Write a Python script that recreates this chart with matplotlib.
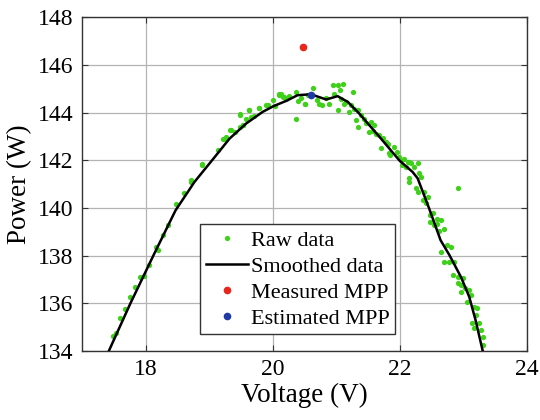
import matplotlib.pyplot as plt
import numpy as np

# Datos
raw_v = [17.49, 17.54, 17.67, 17.75, 17.83, 17.91, 17.97, 18.17, 18.19, 18.27,
         18.48, 18.61, 18.72, 18.72, 18.88, 19.21, 19.27, 19.35, 19.40, 19.48,
         19.53, 19.49, 19.58, 19.63, 19.66, 19.79, 19.90, 20.00, 20.04, 20.13,
         20.18, 20.39, 20.51, 20.36, 20.10, 20.21, 20.37, 20.50, 20.63, 20.73,
         20.78, 20.89, 20.94, 21.02, 21.10, 20.97, 21.07, 21.15, 21.26, 21.23,
         21.20, 21.02, 21.34, 21.31, 21.34, 21.39, 21.54, 21.60, 21.52, 21.67,
         21.70, 21.78, 21.83, 21.96, 22.02, 22.09, 21.62, 21.81, 21.84, 21.99,
         22.04, 22.17, 22.28, 22.22, 22.30, 22.15, 22.15, 22.25, 22.28, 22.38,
         22.36, 22.41, 22.48, 22.48, 22.59, 22.64, 22.54, 22.70, 22.92, 22.59,
         22.65, 22.70, 22.78, 22.85, 22.83, 22.91, 22.91, 22.96, 22.96, 23.09,
         23.12, 23.06, 23.17, 23.22, 23.14, 23.25, 23.17, 23.28, 23.30, 23.30,
         22.15, 18.88, 19.48, 19.63, 19.79, 19.92, 20.10, 20.16, 19.32, 19.53,
         19.23, 19.14, 17.60, 18.35, 18.05, 19.70, 20.25, 20.45, 20.56, 20.70,
         20.84, 21.05, 21.12, 21.28, 21.44, 21.47, 21.58, 21.74, 21.90, 22.06,
         22.12, 22.33, 22.44, 22.52, 22.62, 22.74, 22.80, 23.00, 23.03, 23.20]
raw_p = [134.64, 134.74, 135.75, 136.28, 136.70, 137.09, 137.17, 138.37, 138.23, 138.86,
         140.15, 140.63, 141.10, 141.17, 141.82, 142.88, 142.98, 143.26, 143.19, 143.40,
         143.47, 143.92, 143.72, 144.13, 143.82, 144.20, 144.34, 144.52, 144.27, 144.77,
         144.66, 144.48, 144.38, 143.72, 144.80, 144.59, 144.87, 144.38, 145.05, 144.38,
         144.31, 144.38, 145.15, 145.15, 145.22, 144.80, 144.59, 144.45, 144.87, 144.31,
         144.03, 144.13, 144.10, 143.68, 143.38, 143.89, 143.61, 143.47, 143.19, 143.05,
         142.50, 142.77, 142.29, 142.36, 142.00, 141.72, 143.12, 142.70, 142.21, 142.14,
         141.80, 141.87, 141.90, 141.72, 141.45, 141.24, 141.10, 140.82, 140.68, 140.68,
         140.33, 140.19, 139.70, 139.42, 139.56, 139.49, 139.28, 139.14, 140.82, 139.35,
         138.16, 137.74, 137.74, 137.74, 137.18, 137.11, 136.84, 136.77, 136.49, 136.56,
         136.35, 136.07, 135.86, 135.79, 135.16, 135.16, 134.95, 134.88, 134.60, 134.25,
         141.91, 141.84, 143.93, 144.13, 144.21, 144.31, 144.73, 144.66, 143.26, 143.47,
         142.91, 142.42, 135.40, 139.30, 137.60, 143.85, 144.70, 144.60, 144.75, 144.55,
         144.60, 144.95, 144.35, 144.15, 143.75, 143.55, 143.25, 142.95, 142.55, 142.05,
         141.95, 141.30, 140.45, 139.80, 139.05, 138.45, 138.35, 137.05, 136.65, 135.50]

smooth_v = [17.42, 17.76, 18.12, 18.47, 18.77, 19.06, 19.32, 19.58, 19.84, 20.01,
            20.21, 20.39, 20.60, 20.84, 21.02, 21.18, 21.36, 21.68, 21.99, 22.20,
            22.28, 22.46, 22.64, 22.78, 22.96, 23.09, 23.19, 23.30]
smooth_p = [134.0, 136.0, 138.0, 139.9, 141.1, 142.05, 142.91, 143.54, 144.03, 144.27,
            144.49, 144.73, 144.77, 144.55, 144.69, 144.45, 143.96, 142.98, 142.0, 141.51,
            141.24, 139.98, 138.65, 138.02, 137.11, 136.28, 135.30, 134.04]

measured_mpp = (20.48, 146.75)
estimated_mpp = (20.60, 144.75)

plt.rcParams['font.family'] = ['Liberation Serif', 'DejaVu Serif']

fig = plt.figure(figsize=(5.4, 4.2), dpi=100)
ax = fig.add_axes([0.152, 0.164, 0.824, 0.795])

ax.plot(raw_v, raw_p, 'o', color='#3fd01a', markersize=3.8, markeredgewidth=0,
        label='Raw data', zorder=3)
ax.plot(smooth_v, smooth_p, '-', color='black', linewidth=1.8,
        label='Smoothed data', zorder=4)
ax.plot(*measured_mpp, 'o', color='#e8261e', markersize=5.5, markeredgewidth=0,
        label='Measured MPP', zorder=5)
ax.plot(*estimated_mpp, 'o', color='#1f3aa8', markersize=5.5, markeredgewidth=0,
        label='Estimated MPP', zorder=5)

ax.set_xlim(17, 24)
ax.set_ylim(134, 148)
ax.set_xticks([18, 20, 22, 24])
ax.set_yticks(np.arange(134, 149, 2))
ax.grid(True, color='#b4b4b4', linewidth=0.9)
ax.set_axisbelow(True)
ax.tick_params(direction='in', length=4, top=True, right=True,
               labelsize=17, color='#333333', pad=6)
for s in ax.spines.values():
    s.set_color('#333333')
    s.set_linewidth(1.0)

ax.set_xlabel('Voltage (V)', fontsize=19.5, labelpad=2)
ax.set_ylabel('Power (W)', fontsize=19.5, labelpad=4)

leg = ax.legend(loc='lower left', bbox_to_anchor=(0.265, 0.05), borderaxespad=0,
                fontsize=16, fancybox=False, edgecolor='#333333', framealpha=1,
                borderpad=0.25, handlelength=1.9, handletextpad=0.15,
                labelspacing=0.25, numpoints=1)
leg.get_frame().set_linewidth(1.0)

fig.savefig('out.png', dpi=100)
